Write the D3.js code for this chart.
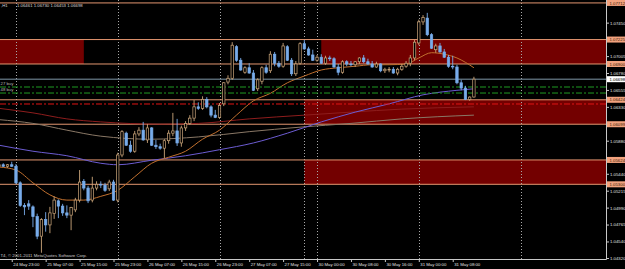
<!DOCTYPE html>
<html>
<head>
<meta charset="utf-8">
<script src="https://cdn.jsdelivr.net/npm/d3@7"></script>
<style>
  html, body { margin: 0; padding: 0; background: #000; }
  svg { display: block; }
  text { font-family: "Liberation Sans", Arial, sans-serif; }
</style>
</head>
<body>
<script>
// trading sessions shown: day, first hour, last hour (H1 bars)
var sessions = [["24 May", 20, 23], ["25 May", 0, 23], ["26 May", 0, 23], ["27 May", 0, 22], ["30 May", 0, 23], ["31 May", 0, 13]];

var opens = [
  1.0554, 1.0556, 1.0554, 1.0556,
  1.0554, 1.0532, 1.0502, 1.0504, 1.0500, 1.0487, 1.0461, 1.0483, 1.0476, 1.0491, 1.0508, 1.0501,
  1.0492, 1.0489, 1.0496, 1.0509, 1.0534, 1.0525, 1.0509, 1.0525, 1.0530, 1.0529, 1.0524, 1.0533,
  1.0509, 1.0569, 1.0598, 1.0582, 1.0574, 1.0597, 1.0602, 1.0589, 1.0605, 1.0582, 1.0580, 1.0578,
  1.0588, 1.0598, 1.0601, 1.0585, 1.0605, 1.0611, 1.0618, 1.0633, 1.0631, 1.0643, 1.0633, 1.0622,
  1.0619, 1.0637, 1.0666, 1.0671, 1.0713, 1.0695, 1.0679, 1.0685, 1.0678, 1.0657, 1.0667, 1.0685,
  1.0681, 1.0703, 1.0691, 1.0687, 1.0713, 1.0695, 1.0677, 1.0691, 1.0717, 1.0710, 1.0702,
  1.0695, 1.0699, 1.0691, 1.0698, 1.0697, 1.0686, 1.0679, 1.0693, 1.0690, 1.0689, 1.0693, 1.0698,
  1.0693, 1.0690, 1.0686, 1.0690, 1.0681, 1.0682, 1.0683, 1.0678, 1.0683, 1.0687, 1.0691, 1.0698,
  1.0718, 1.0746, 1.0751, 1.0729, 1.0709, 1.0714, 1.0706, 1.0699, 1.0687, 1.0686, 1.0665, 1.0658,
  1.0643, 1.06461
];
var highs = [
  1.0558, 1.0558, 1.0557, 1.0560,
  1.0557, 1.0534, 1.0505, 1.0509, 1.0502, 1.0491, 1.0485, 1.0493, 1.0500, 1.0514, 1.0510, 1.0504,
  1.0502, 1.0500, 1.0512, 1.0549, 1.0537, 1.0528, 1.0540, 1.0534, 1.0534, 1.0532, 1.0536, 1.0536,
  1.0572, 1.0602, 1.0600, 1.0588, 1.0601, 1.0606, 1.0613, 1.0610, 1.0606, 1.0589, 1.0584, 1.0590,
  1.0602, 1.0625, 1.0617, 1.0608, 1.0614, 1.0622, 1.0642, 1.0639, 1.0647, 1.0646, 1.0635, 1.0629,
  1.0638, 1.0666, 1.0675, 1.0719, 1.0715, 1.0698, 1.0687, 1.0691, 1.0682, 1.0671, 1.0687, 1.0689,
  1.0707, 1.0706, 1.0694, 1.0718, 1.0715, 1.0698, 1.0694, 1.0719, 1.0722, 1.0713, 1.0709,
  1.0702, 1.0703, 1.0701, 1.0701, 1.0699, 1.0690, 1.0695, 1.0695, 1.0694, 1.0694, 1.0699, 1.0702,
  1.0697, 1.0694, 1.0693, 1.0691, 1.0685, 1.0686, 1.0686, 1.0685, 1.0690, 1.0694, 1.0702, 1.0722,
  1.0749, 1.0755, 1.0758, 1.0731, 1.0717, 1.0718, 1.0710, 1.0702, 1.0701, 1.0689, 1.0669, 1.0661,
  1.0647, 1.06730
];
var lows = [
  1.0552, 1.0553, 1.0552, 1.0553,
  1.0530, 1.0500, 1.0489, 1.0496, 1.0473, 1.0457, 1.0439, 1.0467, 1.0465, 1.0484, 1.0485, 1.0488,
  1.0485, 1.0469, 1.0493, 1.0506, 1.0522, 1.0505, 1.0506, 1.0522, 1.0525, 1.0520, 1.0521, 1.0508,
  1.0506, 1.0566, 1.0581, 1.0572, 1.0572, 1.0594, 1.0588, 1.0585, 1.0581, 1.0577, 1.0576, 1.0565,
  1.0584, 1.0594, 1.0581, 1.0580, 1.0601, 1.0609, 1.0614, 1.0629, 1.0629, 1.0631, 1.0619, 1.0618,
  1.0617, 1.0634, 1.0663, 1.0669, 1.0693, 1.0681, 1.0677, 1.0677, 1.0654, 1.0654, 1.0663, 1.0677,
  1.0678, 1.0687, 1.0685, 1.0685, 1.0694, 1.0674, 1.0674, 1.0689, 1.0709, 1.0701, 1.0694,
  1.0693, 1.0690, 1.0689, 1.0694, 1.0685, 1.0675, 1.0677, 1.0687, 1.0687, 1.0686, 1.0690, 1.0691,
  1.0689, 1.0685, 1.0685, 1.0679, 1.0678, 1.0679, 1.0677, 1.0675, 1.0681, 1.0685, 1.0687, 1.0695,
  1.0715, 1.0742, 1.0727, 1.0710, 1.0705, 1.0705, 1.0698, 1.0685, 1.0683, 1.0663, 1.0655, 1.0642,
  1.0641, 1.06453
];
var closes = [
  1.0556, 1.0554, 1.0556, 1.0554,
  1.0532, 1.0502, 1.0500, 1.0501, 1.0487, 1.0461, 1.0483, 1.0476, 1.0492, 1.0509, 1.0501, 1.0492,
  1.0489, 1.0499, 1.0509, 1.0533, 1.0525, 1.0508, 1.0525, 1.0530, 1.0529, 1.0522, 1.0533, 1.0509,
  1.0569, 1.0600, 1.0582, 1.0574, 1.0597, 1.0602, 1.0589, 1.0605, 1.0582, 1.0580, 1.0578, 1.0588,
  1.0598, 1.0601, 1.0585, 1.0605, 1.0611, 1.0618, 1.0633, 1.0631, 1.0643, 1.0633, 1.0622, 1.0619,
  1.0635, 1.0665, 1.0671, 1.0715, 1.0695, 1.0682, 1.0685, 1.0678, 1.0655, 1.0669, 1.0685, 1.0679,
  1.0703, 1.0691, 1.0687, 1.0714, 1.0695, 1.0677, 1.0690, 1.0717, 1.0710, 1.0702, 1.0695,
  1.0699, 1.0691, 1.0698, 1.0697, 1.0686, 1.0679, 1.0693, 1.0690, 1.0689, 1.0693, 1.0698, 1.0693,
  1.0690, 1.0686, 1.0690, 1.0681, 1.0683, 1.0683, 1.0678, 1.0683, 1.0687, 1.0691, 1.0698, 1.0719,
  1.0746, 1.0752, 1.0729, 1.0711, 1.0714, 1.0706, 1.0699, 1.0687, 1.0686, 1.0665, 1.0658, 1.0643,
  1.0646, 1.06698
];

// moving averages, read at a few bars each
var maFast = [["24 May 20:00", 1.0553], ["25 May 00:00", 1.0549], ["25 May 04:00", 1.0532], ["25 May 08:00", 1.0516],
  ["25 May 12:00", 1.0509], ["25 May 16:00", 1.0509], ["25 May 20:00", 1.0514], ["26 May 00:00", 1.0522],
  ["26 May 04:00", 1.0540], ["26 May 08:00", 1.0558], ["26 May 12:00", 1.0566], ["26 May 16:00", 1.0574],
  ["26 May 20:00", 1.0590], ["27 May 00:00", 1.0602], ["27 May 04:00", 1.0622], ["27 May 08:00", 1.0641],
  ["27 May 12:00", 1.0651], ["27 May 16:00", 1.0665], ["27 May 20:00", 1.0674], ["30 May 01:00", 1.0682],
  ["30 May 05:00", 1.0685], ["30 May 09:00", 1.0687], ["30 May 13:00", 1.0689], ["30 May 17:00", 1.0689],
  ["30 May 21:00", 1.0690], ["31 May 00:00", 1.0698], ["31 May 03:00", 1.0705], ["31 May 06:00", 1.0703],
  ["31 May 09:00", 1.0698], ["31 May 13:00", 1.0685]];
var maSlow = [["24 May 20:00", 1.0582], ["25 May 04:00", 1.0574], ["25 May 12:00", 1.0568], ["25 May 20:00", 1.0558],
  ["26 May 00:00", 1.0556], ["26 May 08:00", 1.0562], ["26 May 16:00", 1.0568], ["27 May 00:00", 1.0576],
  ["27 May 08:00", 1.0585], ["27 May 16:00", 1.0598], ["30 May 01:00", 1.0613], ["30 May 09:00", 1.0626],
  ["30 May 17:00", 1.0637], ["31 May 01:00", 1.0649], ["31 May 09:00", 1.0655], ["31 May 13:00", 1.0657]];
var maRed = [["24 May 20:00", 1.0631], ["25 May 04:00", 1.0625], ["25 May 12:00", 1.0617], ["25 May 20:00", 1.0613],
  ["26 May 10:00", 1.0610], ["26 May 19:00", 1.0611], ["27 May 07:00", 1.0617], ["27 May 20:00", 1.0622],
  ["30 May 08:00", 1.0626], ["30 May 20:00", 1.0630], ["31 May 13:00", 1.0633]];
var maGrey = [["24 May 20:00", 1.0616], ["25 May 04:00", 1.0611], ["25 May 12:00", 1.0602], ["25 May 20:00", 1.0594],
  ["26 May 08:00", 1.0590], ["26 May 19:00", 1.0593], ["27 May 07:00", 1.0600], ["27 May 19:00", 1.0606],
  ["30 May 08:00", 1.0611], ["30 May 20:00", 1.0617], ["31 May 13:00", 1.0622]];

// chart objects
var levels = [1.07712, 1.07225, 1.06900, 1.06424, 1.06099, 1.05624, 1.05300];
var zones = [
  {from: null, to: "25 May 16:00", lo: 1.06900, hi: 1.07225},
  {from: "30 May 01:00", to: null, lo: 1.06900, hi: 1.07225},
  {from: "27 May 20:00", to: null, lo: 1.06099, hi: 1.06424},
  {from: "27 May 20:00", to: null, lo: 1.05300, hi: 1.05624}
];
var buyOrders = [{p: 1.06594, label: "27 buy"}, {p: 1.06514, label: "48 buy"}];
var stopLevel = 1.06368;
var vLineAt = "27 May 20:00";
var bid = 1.06698;

var priceTicks = [1.07450, 1.07005, 1.06780, 1.06555, 1.06330, 1.05880, 1.05440, 1.05215, 1.04990, 1.04765, 1.04540, 1.04320];
var timeTicks = ["24 May 23:00", "25 May 07:00", "25 May 15:00", "25 May 23:00", "26 May 07:00", "26 May 15:00",
  "26 May 23:00", "27 May 07:00", "27 May 15:00", "30 May 00:00", "30 May 08:00", "30 May 16:00", "31 May 00:00", "31 May 08:00"];

var barTimes = [];
sessions.forEach(function(s) {
  for (var h = s[1]; h <= s[2]; h++) barTimes.push(s[0] + ' ' + (h < 10 ? '0' : '') + h + ':00');
});
var bars = barTimes.map(function(t, i) {
  return {t: t, i: i, o: opens[i], h: highs[i], l: lows[i], c: closes[i]};
});
function idx(t) { return barTimes.indexOf(t); }

var W = 625, H = 269, plotR = 606, plotB = 259;
var bullCol = '#CDA77C', bearCol = '#78ACEA', salmon = '#E39670';

var x = d3.scaleLinear().domain([0.23, 143.15]).range([0, plotR]);
var y = d3.scaleLinear().domain([1.04320, 1.07751]).range([258, 0]);

var svg = d3.select('body').append('svg')
  .attr('width', W).attr('height', H)
  .style('background', '#000');

svg.append('clipPath').attr('id', 'clip')
  .append('rect').attr('width', plotR).attr('height', plotB);

var plot = svg.append('g').attr('clip-path', 'url(#clip)');

// rectangles
plot.selectAll('.zone').data(zones).enter().append('rect')
  .attr('class', 'zone')
  .attr('x', function(d) { return d.from ? x(idx(d.from)) : 0; })
  .attr('width', function(d) { return (d.to ? x(idx(d.to)) : plotR) - (d.from ? x(idx(d.from)) : 0); })
  .attr('y', function(d) { return y(d.hi); })
  .attr('height', function(d) { return y(d.lo) - y(d.hi); })
  .attr('fill', '#730000');

// day separators + vertical line
var seps = barTimes.map(function(t, i) { return t.slice(-5) === '00:00' ? i : -1; }).filter(function(i) { return i >= 0; });
seps.push(seps[seps.length - 1] + 24);
seps.push(idx(vLineAt));
plot.selectAll('.sep').data(seps).enter().append('line')
  .attr('x1', function(d) { return Math.round(x(d)) + 0.5; })
  .attr('x2', function(d) { return Math.round(x(d)) + 0.5; })
  .attr('y1', 0).attr('y2', plotB)
  .attr('stroke', '#A8A8A8').attr('stroke-width', 1).attr('stroke-dasharray', '1,2');

// horizontal levels
plot.selectAll('.lvl').data(levels).enter().append('line')
  .attr('x1', 0).attr('x2', plotR)
  .attr('y1', function(d) { return y(d); }).attr('y2', function(d) { return y(d); })
  .attr('stroke', salmon).attr('stroke-width', 1);

// moving averages
var maLine = d3.line()
  .x(function(d) { return x(idx(d[0])); })
  .y(function(d) { return y(d[1]); })
  .curve(d3.curveMonotoneX);
[[maGrey, '#8A7866'], [maRed, '#8E1D1D'], [maSlow, '#6C5CD2'], [maFast, '#C2702E']].forEach(function(m) {
  plot.append('path').attr('d', maLine(m[0]))
    .attr('fill', 'none').attr('stroke', m[1]).attr('stroke-width', 1);
});

// bid line and pending orders
plot.append('line').attr('x1', 0).attr('x2', plotR)
  .attr('y1', y(bid)).attr('y2', y(bid))
  .attr('stroke', '#7F97A8').attr('stroke-width', 1);
plot.selectAll('.ord').data(buyOrders).enter().append('line')
  .attr('x1', 0).attr('x2', plotR)
  .attr('y1', function(d) { return y(d.p); }).attr('y2', function(d) { return y(d.p); })
  .attr('stroke', '#1F9A22').attr('stroke-width', 1).attr('stroke-dasharray', '6,2,2,2');
plot.selectAll('.ordtxt').data(buyOrders).enter().append('text')
  .attr('x', 0.5).attr('y', function(d) { return y(d.p) - 2.2; })
  .attr('font-size', '4.3px').attr('fill', '#B4B4B4')
  .text(function(d) { return d.label; });
plot.append('line').attr('x1', 0).attr('x2', plotR)
  .attr('y1', y(stopLevel)).attr('y2', y(stopLevel))
  .attr('stroke', '#E01414').attr('stroke-width', 1).attr('stroke-dasharray', '6,2,2,2');

// candles
var cg = plot.append('g');
cg.selectAll('.wick').data(bars).enter().append('line')
  .attr('x1', function(d) { return x(d.i); }).attr('x2', function(d) { return x(d.i); })
  .attr('y1', function(d) { return y(d.h); }).attr('y2', function(d) { return y(d.l); })
  .attr('stroke', function(d) { return d.c >= d.o ? bullCol : bearCol; })
  .attr('stroke-width', 0.9);
cg.selectAll('.body').data(bars).enter().append('rect')
  .attr('x', function(d) { return x(d.i) - 1.2; })
  .attr('width', 2.4)
  .attr('y', function(d) { return y(Math.max(d.o, d.c)); })
  .attr('height', function(d) { return Math.max(0.7, Math.abs(y(d.o) - y(d.c))); })
  .attr('fill', function(d) { return d.c >= d.o ? '#000' : bearCol; })
  .attr('stroke', function(d) { return d.c >= d.o ? bullCol : bearCol; })
  .attr('stroke-width', 0.7);

// header and copyright (only the parts visible in the window)
var last = bars[bars.length - 1];
svg.append('text').attr('x', 1).attr('y', 7.3)
  .attr('font-size', '4.3px').attr('fill', '#D8D8D8').text(',H1');
svg.append('text').attr('x', 17).attr('y', 7.3)
  .attr('font-size', '4.3px').attr('fill', '#D8D8D8')
  .text([last.o, last.h, last.l, last.c].map(d3.format('.5f')).join(' '));
svg.append('text').attr('x', 0.5).attr('y', 256.5)
  .attr('font-size', '4.3px').attr('fill', '#CCCCCC')
  .text('T4, \u00A9 2001-2011 MetaQuotes Software Corp.');

// axes
var yAxis = d3.axisRight(y).tickValues(priceTicks).tickFormat(d3.format('.5f'))
  .tickSize(3).tickSizeOuter(0).tickPadding(1);
var gy = svg.append('g').attr('transform', 'translate(' + plotR + ',0)').call(yAxis);
gy.select('.domain').remove();
gy.selectAll('line').attr('stroke', '#C8C8C8');
gy.selectAll('text').attr('font-size', '4.3px').attr('fill', '#E0E0E0').attr('font-family', '"Liberation Sans", Arial, sans-serif');

var xAxis = d3.axisBottom(x).tickValues(timeTicks.map(idx))
  .tickFormat(function(i) { return barTimes[i]; })
  .tickSize(3).tickSizeOuter(0);
var gx = svg.append('g').attr('transform', 'translate(0,' + plotB + ')').call(xAxis);
gx.select('.domain').remove();
gx.selectAll('line').attr('stroke', '#C8C8C8');
gx.selectAll('text').attr('text-anchor', 'start').attr('x', 1).attr('y', 4)
  .attr('font-size', '4.3px').attr('fill', '#E0E0E0').attr('font-family', '"Liberation Sans", Arial, sans-serif');

svg.append('line').attr('x1', 0).attr('x2', plotR + 0.5).attr('y1', plotB + 0.5).attr('y2', plotB + 0.5)
  .attr('stroke', '#C8C8C8');
svg.append('line').attr('x1', plotR + 0.5).attr('x2', plotR + 0.5).attr('y1', 0).attr('y2', plotB + 0.5)
  .attr('stroke', '#C8C8C8');

// highlighted price labels
var tags = levels.map(function(p) { return {p: p, bg: '#F2A27E', fg: '#3A1A08'}; })
  .concat([{p: bid, bg: '#FFFFFF', fg: '#000000'}]);
var tg = svg.selectAll('.tag').data(tags).enter().append('g')
  .attr('transform', function(d) { return 'translate(' + (plotR + 1) + ',' + y(d.p) + ')'; });
tg.append('rect').attr('x', 0).attr('y', -3).attr('width', W - plotR - 1).attr('height', 6)
  .attr('fill', function(d) { return d.bg; });
tg.append('text').attr('x', 2.5).attr('y', 1.6)
  .attr('font-size', '4.3px').attr('fill', function(d) { return d.fg; })
  .text(function(d) { return d3.format('.5f')(d.p); });
</script>
</body>
</html>
